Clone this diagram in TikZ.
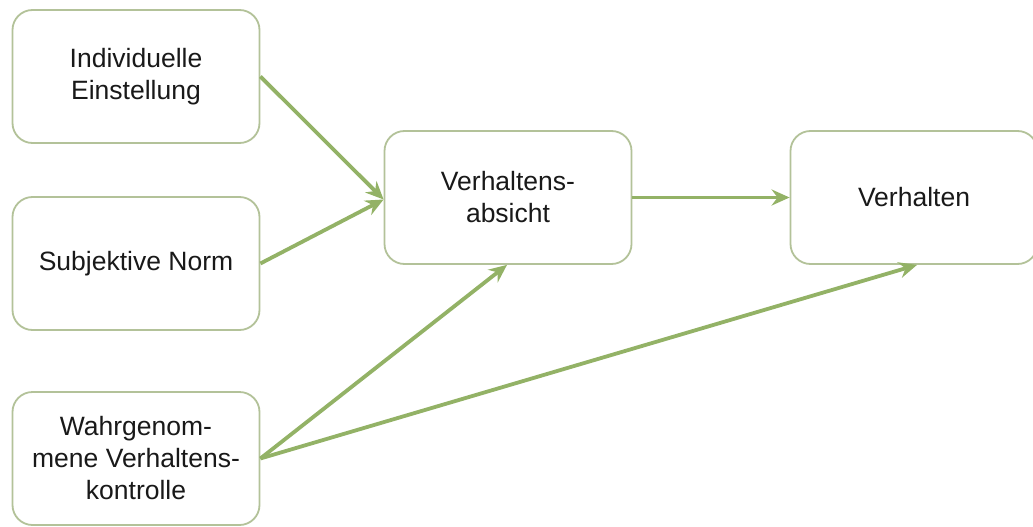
\documentclass[tikz,border=0pt]{standalone}
\usepackage{fontspec}
\setmainfont{Liberation Sans}
\usetikzlibrary{arrows.meta}
\definecolor{boxline}{HTML}{B3C299}
\definecolor{arrowgreen}{HTML}{93B266}
\begin{document}
\begin{tikzpicture}[x=1pt,y=-1pt,
  box/.style={draw=boxline, line width=1.8pt, rounded corners=20pt, fill=white,
    minimum width=247pt, minimum height=133pt, align=center, inner sep=0pt,
    font=\fontsize{26.5}{32}\selectfont, text=black!90},
  conn/.style={draw=arrowgreen, line width=3.8pt, -{Stealth[length=18pt,width=16pt,inset=6pt]}}]
\useasboundingbox (0,0) rectangle (1033,527);
\node[box] (ie) at (136,76.5) {Individuelle\\Einstellung};
\node[box] (sn) at (136,263.5) {Subjektive Norm};
\node[box] (wv) at (136,458.5) {Wahrgenom-\\mene Verhaltens-\\kontrolle};
\node[box] (va) at (508,197.5) {Verhaltens-\\absicht};
\node[box] (vh) at (914,197.5) {Verhalten};
\coordinate (wvout) at (wv.east);
\draw[conn] (ie.east) -- ([yshift=-2pt]va.west);
\draw[conn] (sn.east) -- ([yshift=-2pt]va.west);
\draw[conn] (va.east) -- (vh.west);
\draw[conn] (wvout) -- ([xshift=-1pt]va.south);
\draw[conn] (wvout) -- ([xshift=3pt]vh.south);
\end{tikzpicture}
\end{document}
